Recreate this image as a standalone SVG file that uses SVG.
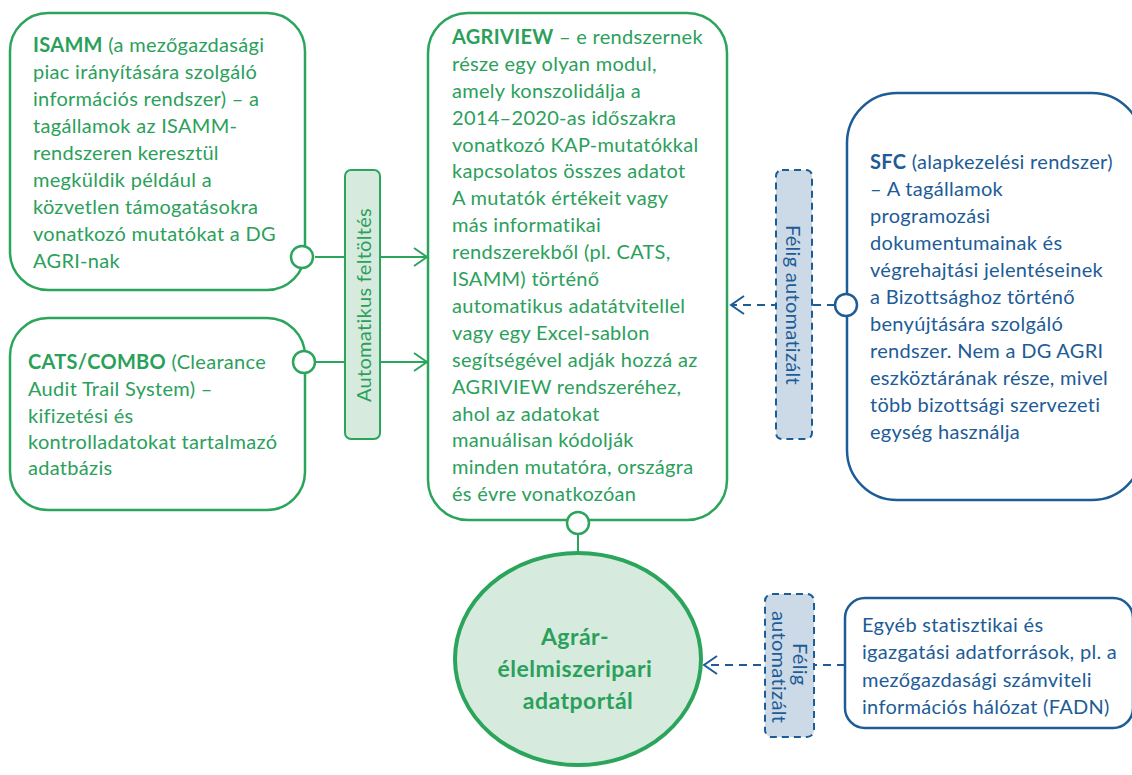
<svg xmlns="http://www.w3.org/2000/svg" width="1132" height="775" viewBox="0 0 1132 775">
<defs>
<style>
.t{font-family:Lato,"Liberation Sans",sans-serif;font-size:20px;letter-spacing:0.3px}
.g{fill:#2BA05B}
.b{fill:#1D5C96}
.bold{font-weight:bold}
.gbox{fill:#fff;stroke:#2BA55C;stroke-width:2.5}
.bbox{fill:#fff;stroke:#1D5C96;stroke-width:2.5}
.gline{stroke:#2BA55C;stroke-width:2;fill:none}
.bline{stroke:#1D5C96;stroke-width:2;fill:none;stroke-dasharray:8 6}
</style>
<marker id="ga" markerUnits="userSpaceOnUse" markerWidth="16" markerHeight="22" refX="14" refY="11" orient="auto" viewBox="0 0 16 22">
<path d="M1,2 L14,11 L1,20" fill="none" stroke="#2BA55C" stroke-width="2"/>
</marker>
<marker id="ba" markerUnits="userSpaceOnUse" markerWidth="16" markerHeight="22" refX="14" refY="11" orient="auto" viewBox="0 0 16 22">
<path d="M1,2 L14,11 L1,20" fill="none" stroke="#1D5C96" stroke-width="2"/>
</marker>
</defs>
<rect width="1132" height="775" fill="#fff"/>

<g id="connectors">
<line class="gline" x1="315" y1="257" x2="427" y2="257" marker-end="url(#ga)"/>
<line class="gline" x1="315" y1="362" x2="427" y2="362" marker-end="url(#ga)"/>
<line class="gline" x1="578" y1="534" x2="578" y2="553"/>
<line class="bline" x1="835" y1="305" x2="731" y2="305" marker-end="url(#ba)"/>
<line class="bline" x1="845" y1="665" x2="704" y2="665" marker-end="url(#ba)"/>
</g>

<g id="isamm">
<rect class="gbox" x="10" y="13" width="295" height="277" rx="38"/>
<circle class="gbox" cx="302" cy="257" r="11" stroke-width="2"/>
<text class="t g">
<tspan x="33" y="52"><tspan class="bold">ISAMM</tspan> (a mezőgazdasági</tspan>
<tspan x="33" y="79">piac irányítására szolgáló</tspan>
<tspan x="33" y="106">információs rendszer) – a</tspan>
<tspan x="33" y="133">tagállamok az ISAMM-</tspan>
<tspan x="33" y="160">rendszeren keresztül</tspan>
<tspan x="33" y="187">megküldik például a</tspan>
<tspan x="33" y="214">közvetlen támogatásokra</tspan>
<tspan x="33" y="241">vonatkozó mutatókat a DG</tspan>
<tspan x="33" y="268">AGRI-nak</tspan>
</text>
</g>

<g id="cats">
<rect class="gbox" x="10" y="318" width="295" height="192" rx="38"/>
<circle class="gbox" cx="304" cy="362" r="11" stroke-width="2"/>
<text class="t g">
<tspan x="28" y="369"><tspan class="bold">CATS/COMBO</tspan> (Clearance</tspan>
<tspan x="28" y="396">Audit Trail System) –</tspan>
<tspan x="28" y="423">kifizetési és</tspan>
<tspan x="28" y="449">kontrolladatokat tartalmazó</tspan>
<tspan x="28" y="475">adatbázis</tspan>
</text>
</g>

<g id="label-auto">
<rect x="345" y="170" width="35" height="269" rx="6" fill="#D6EBDE" stroke="#2BA55C" stroke-width="2"/>
<text class="t g" transform="translate(371,305) rotate(-90)" text-anchor="middle">Automatikus feltöltés</text>
</g>

<g id="agriview">
<rect class="gbox" x="428" y="13" width="299" height="507" rx="40"/>
<circle class="gbox" cx="578" cy="523" r="11" stroke-width="2"/>
<text class="t g">
<tspan x="452" y="44"><tspan class="bold">AGRIVIEW</tspan> – e rendszernek</tspan>
<tspan x="452" y="71">része egy olyan modul,</tspan>
<tspan x="452" y="98">amely konszolidálja a</tspan>
<tspan x="452" y="125">2014–2020-as időszakra</tspan>
<tspan x="452" y="152">vonatkozó KAP-mutatókkal</tspan>
<tspan x="452" y="178">kapcsolatos összes adatot</tspan>
<tspan x="452" y="205">A mutatók értékeit vagy</tspan>
<tspan x="452" y="232">más informatikai</tspan>
<tspan x="452" y="259">rendszerekből (pl. CATS,</tspan>
<tspan x="452" y="286">ISAMM) történő</tspan>
<tspan x="452" y="313">automatikus adatátvitellel</tspan>
<tspan x="452" y="340">vagy egy Excel-sablon</tspan>
<tspan x="452" y="367">segítségével adják hozzá az</tspan>
<tspan x="452" y="394">AGRIVIEW rendszeréhez,</tspan>
<tspan x="452" y="421">ahol az adatokat</tspan>
<tspan x="452" y="447">manuálisan kódolják</tspan>
<tspan x="452" y="474">minden mutatóra, országra</tspan>
<tspan x="452" y="501">és évre vonatkozóan</tspan>
</text>
</g>

<g id="label-semi-1">
<rect x="776" y="170" width="36" height="269" rx="6" fill="#CCD9E6" stroke="#1D5C96" stroke-width="2" stroke-dasharray="7 5"/>
<text class="t b" transform="translate(786,305) rotate(90)" text-anchor="middle">Félig automatizált</text>
</g>

<g id="sfc">
<rect class="bbox" x="847" y="93" width="295" height="407" rx="50"/>
<circle class="bbox" cx="846" cy="305" r="11" stroke-width="2"/>
<text class="t b">
<tspan x="870" y="169"><tspan class="bold">SFC</tspan> (alapkezelési rendszer)</tspan>
<tspan x="870" y="196">– A tagállamok</tspan>
<tspan x="870" y="223">programozási</tspan>
<tspan x="870" y="250">dokumentumainak és</tspan>
<tspan x="870" y="277">végrehajtási jelentéseinek</tspan>
<tspan x="870" y="304">a Bizottsághoz történő</tspan>
<tspan x="870" y="331">benyújtására szolgáló</tspan>
<tspan x="870" y="358">rendszer. Nem a DG AGRI</tspan>
<tspan x="870" y="385">eszköztárának része, mivel</tspan>
<tspan x="870" y="412">több bizottsági szervezeti</tspan>
<tspan x="870" y="439">egység használja</tspan>
</text>
</g>

<g id="portal">
<ellipse cx="578" cy="659" rx="123" ry="106" fill="#D6EBDE" stroke="#2BA55C" stroke-width="4"/>
<text class="t g bold" text-anchor="middle" style="font-size:23px;letter-spacing:0.5px">
<tspan x="578" y="645">Agrár-</tspan>
<tspan x="578" y="677">élelmiszeripari</tspan>
<tspan x="578" y="709">adatportál</tspan>
</text>
</g>

<g id="label-semi-2">
<rect x="765" y="594" width="49" height="143" rx="7" fill="#CCD9E6" stroke="#1D5C96" stroke-width="2" stroke-dasharray="7 5"/>
<text class="t b" text-anchor="middle" transform="translate(789,667) rotate(90)">
<tspan x="0" y="-4">Félig</tspan>
<tspan x="0" y="17">automatizált</tspan>
</text>
</g>

<g id="other">
<rect class="bbox" x="845" y="598" width="288" height="130" rx="20"/>
<text class="t b">
<tspan x="862" y="632">Egyéb statisztikai és</tspan>
<tspan x="862" y="659">igazgatási adatforrások, pl. a</tspan>
<tspan x="862" y="687">mezőgazdasági számviteli</tspan>
<tspan x="862" y="714">információs hálózat (FADN)</tspan>
</text>
</g>
</svg>
